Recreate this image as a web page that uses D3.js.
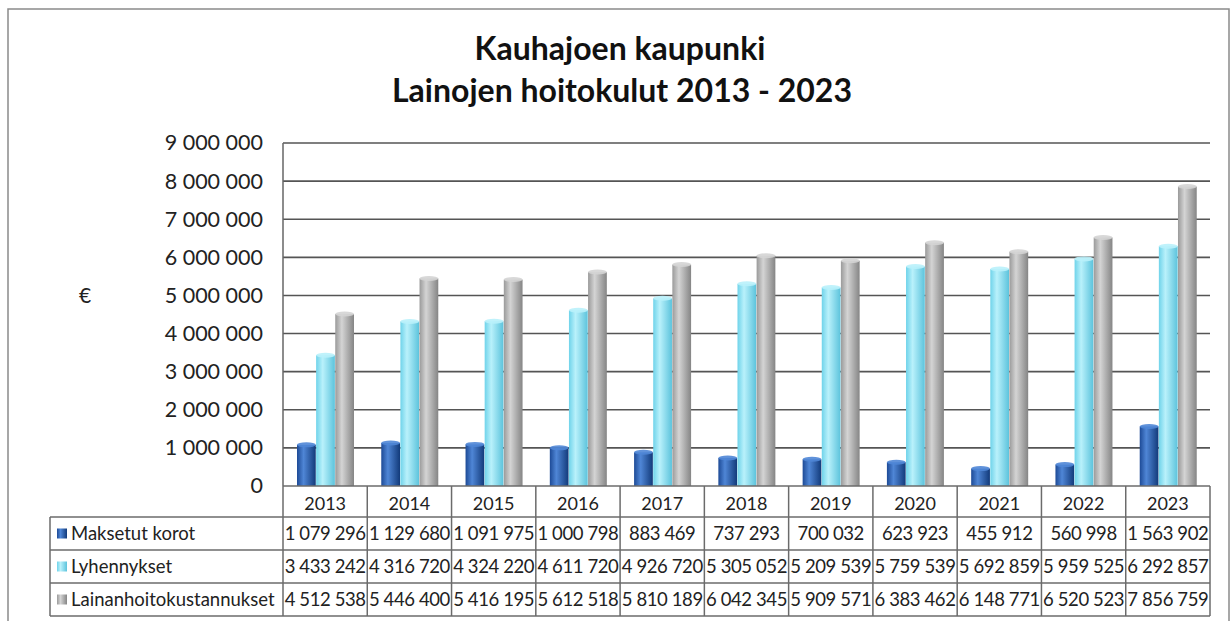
<!DOCTYPE html>
<html>
<head>
<meta charset="utf-8">
<script src="https://cdn.jsdelivr.net/npm/d3@7"></script>
<style>
  body { margin: 0; background: #fff; }
  svg { display: block; font-family: Lato, 'Open Sans', sans-serif; }
</style>
</head>
<body>
<script>
const years = ['2013', '2014', '2015', '2016', '2017', '2018', '2019', '2020', '2021', '2022', '2023']
const seriesNames = ['Maksetut korot', 'Lyhennykset', 'Lainanhoitokustannukset']
const korot = [1079296, 1129680, 1091975, 1000798, 883469, 737293, 700032, 623923, 455912, 560998, 1563902]
const lyhennykset = [3433242, 4316720, 4324220, 4611720, 4926720, 5305052, 5209539, 5759539, 5692859, 5959525, 6292857]
const hoitokulut = [4512538, 5446400, 5416195, 5612518, 5810189, 6042345, 5909571, 6383462, 6148771, 6520523, 7856759]
const yTicks = [0, 1000000, 2000000, 3000000, 4000000, 5000000, 6000000, 7000000, 8000000, 9000000]

const seriesValues = [korot, lyhennykset, hoitokulut]
const colors = [
  ['#1d4a96', '#4f86d6', '#123a7a'],
  ['#6fd3ea', '#b9f1fb', '#5cc3dc'],
  ['#9a9a9a', '#d4d4d4', '#858585']
]

const W = 1231
const H = 621
const plotLeft = 283
const plotRight = 1210
const plotTop = 143
const base = 486
const headerH = 31
const rowH = 33

const fmt = v => d3.format(',')(v).replace(/,/g, ' ')

const svg = d3.select('body').append('svg')
  .attr('width', W)
  .attr('height', H)

// gradients for the column shading
const defs = svg.append('defs')
colors.forEach((c, i) => {
  const g = defs.append('linearGradient').attr('id', `g${i}`)
    .attr('x1', '0%').attr('x2', '100%').attr('y1', '0%').attr('y2', '0%')
  g.append('stop').attr('offset', '0%').attr('stop-color', c[0])
  g.append('stop').attr('offset', '35%').attr('stop-color', c[1])
  g.append('stop').attr('offset', '100%').attr('stop-color', c[2])
})

svg.append('rect')
  .attr('x', 8).attr('y', 9)
  .attr('width', 1221).attr('height', 640)
  .attr('fill', '#fff')
  .attr('stroke', '#8a8a8a')
  .attr('stroke-width', 1.5)

const title = svg.append('text')
  .attr('text-anchor', 'middle')
  .attr('font-weight', 'bold')
  .attr('font-size', 32)
  .attr('fill', '#111')
title.append('tspan').attr('x', 620).attr('y', 60).text('Kauhajoen kaupunki')
title.append('tspan').attr('x', 622).attr('y', 102).text('Lainojen hoitokulut 2013 - 2023')

const y = d3.scaleLinear().domain([0, 9000000]).range([base, plotTop])
const x = d3.scaleBand().domain(years).range([plotLeft, plotRight])
const xs = d3.scaleBand().domain(d3.range(3)).range([14, 71]).paddingInner(0.02)

// gridlines
svg.append('g')
  .selectAll('line')
  .data(yTicks.filter(d => d > 0))
  .join('line')
  .attr('x1', plotLeft).attr('x2', plotRight)
  .attr('y1', d => y(d)).attr('y2', d => y(d))
  .attr('stroke', '#555')
  .attr('stroke-width', 1.6)

svg.append('line')
  .attr('x1', plotLeft).attr('x2', plotLeft)
  .attr('y1', plotTop).attr('y2', base)
  .attr('stroke', '#666')
  .attr('stroke-width', 1.5)

// y axis labels
const yAxis = svg.append('g')
  .attr('transform', `translate(${plotLeft},0)`)
  .call(d3.axisLeft(y).tickValues(yTicks).tickFormat(fmt).tickSize(0).tickPadding(20))
yAxis.select('.domain').remove()
yAxis.selectAll('text')
  .attr('font-size', 21.5)
  .attr('font-family', 'Lato, sans-serif')
  .attr('fill', '#222')

svg.append('text')
  .attr('x', 79).attr('y', 296)
  .attr('dy', '0.35em')
  .attr('font-size', 21)
  .attr('fill', '#222')
  .text('€')

// columns
const groups = svg.append('g')
  .selectAll('g')
  .data(years)
  .join('g')
  .attr('transform', d => `translate(${x(d)},0)`)

groups.selectAll('g.bar')
  .data((d, i) => seriesValues.map((s, k) => ({ k, v: s[i] })))
  .join('g')
  .attr('class', 'bar')
  .each(function (d) {
    const g = d3.select(this)
    const bx = xs(d.k)
    const bw = xs.bandwidth()
    g.append('rect')
      .attr('x', bx).attr('y', y(d.v))
      .attr('width', bw).attr('height', base - y(d.v))
      .attr('fill', `url(#g${d.k})`)
    g.append('ellipse')
      .attr('cx', bx + bw / 2).attr('cy', y(d.v))
      .attr('rx', bw / 2).attr('ry', 2.5)
      .attr('fill', colors[d.k][1])
      .attr('opacity', 0.9)
  })

// data table
const table = svg.append('g')
const lineColor = '#6b6b6b'
const rowsY = [base, base + headerH, base + headerH + rowH, base + headerH + rowH * 2, base + headerH + rowH * 3]

table.selectAll('line.h')
  .data(rowsY)
  .join('line')
  .attr('class', 'h')
  .attr('x1', (d, i) => i === 0 ? plotLeft : 50)
  .attr('x2', plotRight)
  .attr('y1', d => d).attr('y2', d => d)
  .attr('stroke', lineColor)
  .attr('stroke-width', 1.5)

table.selectAll('line.v')
  .data(years.map(d => x(d)).concat([plotRight]))
  .join('line')
  .attr('class', 'v')
  .attr('x1', d => d).attr('x2', d => d)
  .attr('y1', base).attr('y2', rowsY[4])
  .attr('stroke', lineColor)
  .attr('stroke-width', 1.5)

table.append('line')
  .attr('x1', 50).attr('x2', 50)
  .attr('y1', rowsY[1]).attr('y2', rowsY[4])
  .attr('stroke', lineColor)
  .attr('stroke-width', 1.5)

table.selectAll('text.year')
  .data(years)
  .join('text')
  .attr('class', 'year')
  .attr('x', d => x(d) + x.bandwidth() / 2)
  .attr('y', base + headerH / 2 + 2)
  .attr('dy', '0.35em')
  .attr('text-anchor', 'middle')
  .attr('font-size', 18)
  .attr('fill', '#222')
  .text(d => d)

seriesNames.forEach((name, k) => {
  const cy = rowsY[k + 1] + rowH / 2
  table.append('rect')
    .attr('x', 57).attr('y', cy - 5)
    .attr('width', 10).attr('height', 10)
    .attr('fill', `url(#g${k})`)
  table.append('text')
    .attr('x', 71).attr('y', cy)
    .attr('dy', '0.35em')
    .attr('font-size', 18.5)
    .attr('fill', '#222')
    .text(name)
  table.append('g')
    .selectAll('text')
    .data(seriesValues[k])
    .join('text')
    .attr('x', (d, i) => x(years[i]) + x.bandwidth() / 2)
    .attr('y', cy)
    .attr('dy', '0.35em')
    .attr('text-anchor', 'middle')
    .attr('font-size', 18.5)
    .attr('letter-spacing', -0.4)
    .attr('fill', '#222')
    .text(fmt)
})
</script>
</body>
</html>
